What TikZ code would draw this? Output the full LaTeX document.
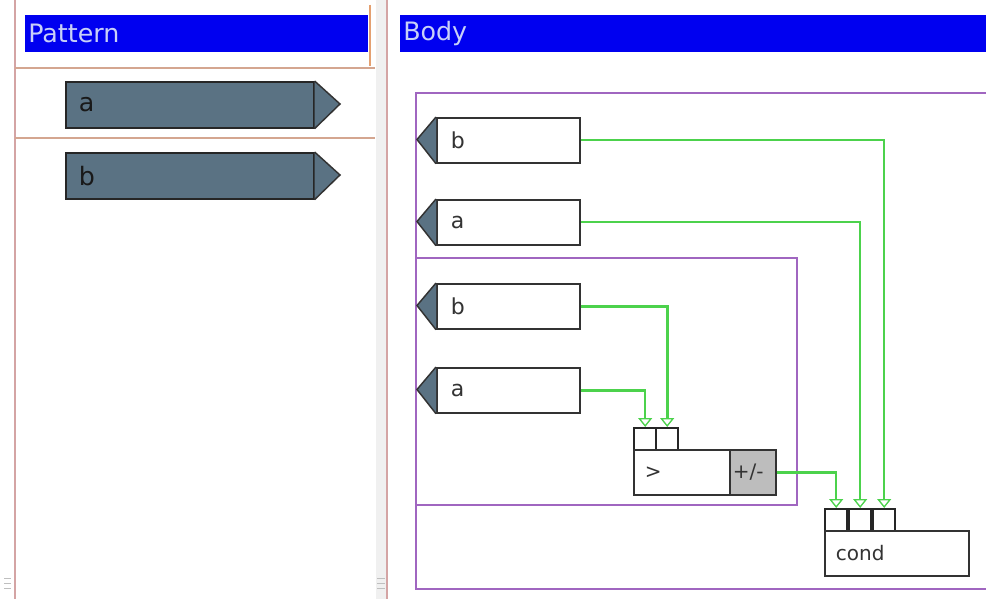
\documentclass[tikz,border=0pt]{standalone}
\usepackage{fontspec}
\setmainfont{DejaVu Sans}
\usetikzlibrary{arrows.meta}
\definecolor{hdrblue}{HTML}{0000F0}
\definecolor{hdrtext}{HTML}{C8D0F8}
\definecolor{slate}{HTML}{5A7283}
\definecolor{frame}{HTML}{A066C0}
\definecolor{wire}{HTML}{4CD24C}
\definecolor{panel}{HTML}{D4A4A4}
\definecolor{sep}{HTML}{D4A690}
\definecolor{hdredge}{HTML}{E4A070}
\definecolor{pmgray}{HTML}{BDBDBD}
\definecolor{txt}{HTML}{333333}
\tikzset{
  header/.style={fill=hdrblue, anchor=north west, minimum height=37*0.75pt,
    inner xsep=3*0.75pt, inner ysep=0pt, align=left, text=hdrtext,
    font=\fontsize{19}{21}\selectfont},
  patbox/.style={draw=black!85, line width=1.2pt, fill=slate, anchor=north west,
    minimum height=46*0.75pt, text width=222*0.75pt, inner xsep=13*0.75pt,
    inner ysep=0pt, align=left, text=black!90, font=\fontsize{19}{21}\selectfont},
  portbox/.style={draw=black!80, line width=1.3pt, fill=white, anchor=north west,
    minimum height=45*0.75pt, text width=115*0.75pt, inner xsep=14*0.75pt,
    inner ysep=0pt, align=left, text=txt, font=\fontsize{16.5}{18}\selectfont},
  pin/.style={draw=black!85, line width=1.8pt, fill=white, anchor=north west,
    minimum width=22*0.75pt, minimum height=22*0.75pt, inner sep=0pt},
  blockbox/.style={draw=black!80, line width=1.3pt, fill=white, anchor=north west,
    minimum height=45*0.75pt, inner xsep=10*0.75pt, inner ysep=0pt, align=left,
    text=txt, font=\fontsize{15}{17}\selectfont},
  frameline/.style={draw=frame, line width=1.1pt},
  wireline/.style={draw=wire, line width=1.7pt,
    -{Triangle[open, width=14*0.75pt, length=9*0.75pt, line width=1pt]}},
  tri/.style={fill=slate, draw=black!80, line width=1.1pt, line join=miter},
}
\begin{document}
\begin{tikzpicture}[x=0.75pt, y=-0.75pt]
\useasboundingbox (0,0) rectangle (986,599);
\fill[white] (0,0) rectangle (986,599);
% panel borders
\fill[black!6] (376,0) rectangle (386,599);
\draw[panel, line width=1.5pt] (15,0) -- (15,599);
\draw[panel, line width=1.5pt] (387,0) -- (387,599);
\draw[sep, line width=1.5pt] (15,68) -- (375,68);
\draw[sep, line width=1.5pt] (15,138) -- (375,138);
\draw[hdredge, line width=1.5pt] (370,5) -- (370,66);
% grips
\foreach \y in {578,583,588} {
  \draw[black!25, line width=0.6pt] (4,\y) -- (11,\y);
  \draw[black!25, line width=0.6pt] (377,\y) -- (385,\y);
}
% headers
\node[header, text width=337*0.75pt] (hp) at (25,15) {Pattern};
\node[header, text width=580*0.75pt] (hb) at (400,15) {Body};
% pattern items
\node[patbox] (pa) at (65,81) {a};
\draw[tri] (pa.north east) -- (340,104) -- (pa.south east);
\node[patbox] (pb) at (65,152) {b};
\draw[tri] (pb.north east) -- (340,175) -- (pb.south east);
% frames
\draw[frameline] (990,93) -- (416,93) -- (416,589) -- (990,589);
\draw[frameline] (416,258) rectangle (797,505);
% input ports
\node[portbox] (ob) at (436,117) {b};
\draw[tri] (ob.north west) -- (417,139.5) -- (ob.south west);
\node[portbox] (oa) at (436,199) {a};
\draw[tri] (oa.north west) -- (417,221.5) -- (oa.south west);
\node[portbox] (ib) at (436,283) {b};
\draw[tri] (ib.north west) -- (417,305.5) -- (ib.south west);
\node[portbox] (ia) at (436,367) {a};
\draw[tri] (ia.north west) -- (417,389.5) -- (ia.south west);
% comparison block
\node[pin] (p1) at (633,427) {};
\node[pin] (p2) at (655,427) {};
\node[blockbox, minimum width=96*0.75pt, text width=74*0.75pt] (gt) at (633,449) {>};
\node[blockbox, fill=pmgray, minimum width=46*0.75pt, inner xsep=1pt, text width=40*0.75pt] (pm) at (729,449) {+/-};
% cond block
\node[pin] (c1) at (824,508) {};
\node[pin] (c2) at (848,508) {};
\node[pin] (c3) at (872,508) {};
\node[blockbox, minimum width=144*0.75pt, text width=122*0.75pt] (cond) at (824,530) {cond};
% wires
\draw[wireline] (ia.east) -| (p1.north);
\draw[wireline, line width=2.2pt] (ib.east) -| (p2.north);
\draw[wireline] (pm.east) -| (c1.north);
\draw[wireline] (oa.east) -| (c2.north);
\draw[wireline] (ob.east) -| (c3.north);
\end{tikzpicture}
\end{document}
